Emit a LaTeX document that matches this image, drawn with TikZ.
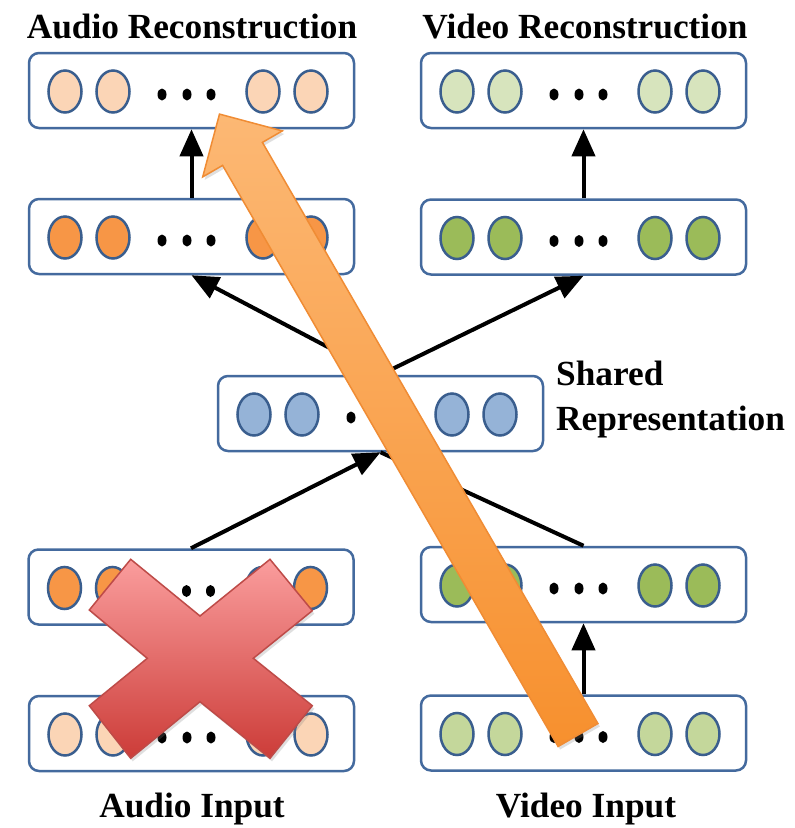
\documentclass[tikz,border=0pt]{standalone}
\usepackage{fontspec}
\setmainfont{Liberation Serif}
\usetikzlibrary{arrows.meta,shapes.geometric,shadows}
\definecolor{boxline}{RGB}{68,106,158}
\definecolor{elline}{RGB}{58,94,142}
\definecolor{peach}{RGB}{251,213,182}
\definecolor{aorange}{RGB}{247,150,70}
\definecolor{vlight}{RGB}{215,228,189}
\definecolor{vgreen}{RGB}{155,187,89}
\definecolor{vinput}{RGB}{196,215,155}
\definecolor{sblue}{RGB}{149,179,215}
\definecolor{arrtop}{RGB}{252,184,116}
\definecolor{arrbot}{RGB}{247,144,46}
\definecolor{arredge}{RGB}{240,140,52}
\definecolor{xtop}{RGB}{250,157,157}
\definecolor{xbot}{RGB}{204,60,56}
\definecolor{xedge}{RGB}{190,75,72}
\newcommand\mklayer[4]{%
  \node[layerbox] (#1) at (#2+162.5,#3) {};
  \foreach \dx [count=\i] in {36,84,234,282}
    \node[unitnode,fill=#4] (#1u\i) at (#2+\dx,#3+1) {};
  \foreach \dx [count=\i] in {133,158,182}
    \node[dotnode] (#1d\i) at (#2+\dx,#3+4) {};
}
\begin{document}
\begin{tikzpicture}[x=1pt,y=-1pt,
  layerbox/.style={draw=boxline,line width=2.5pt,rounded corners=10pt,fill=white,
    minimum width=325pt,minimum height=75pt,inner sep=0pt},
  unitnode/.style={ellipse,draw=elline,line width=2.5pt,minimum width=33pt,
    minimum height=42pt,inner sep=0pt},
  dotnode/.style={ellipse,fill=black,minimum width=9pt,minimum height=12pt,inner sep=0pt},
  arr/.style={line width=4pt,-{Triangle[length=27pt,width=23pt]}},
  plain/.style={line width=4pt},
  lbl/.style={font=\fontsize{35.3}{40}\selectfont\bfseries,inner sep=0pt}]
\useasboundingbox (0,0) rectangle (795,828);
\fill[white] (0,0) rectangle (795,828);

% labels
\node[lbl,anchor=base] (tar) at (192,38) {Audio Reconstruction};
\node[lbl,anchor=base] (tvr) at (585,38) {Video Reconstruction};
\node[lbl,anchor=base west] (tsh1) at (556,385) {Shared};
\node[lbl,anchor=base west] (tsh2) at (556,430) {Representation};
\node[lbl,anchor=base] (tai) at (192,817) {Audio Input};
\node[lbl,anchor=base] (tvi) at (586,817) {Video Input};

% layers
\mklayer{ar}{29}{90.5}{peach}
\mklayer{ah}{29}{236.5}{aorange}
\mklayer{vr}{421}{90.5}{vlight}
\mklayer{vh}{421}{237}{vgreen}
\mklayer{sh}{218}{413.5}{sblue}
\mklayer{ab}{28.5}{587}{aorange}
\mklayer{vb}{421}{584.5}{vgreen}
\mklayer{ai}{29}{733.5}{peach}
\mklayer{vi}{421}{733}{vinput}

% connectors
\draw[arr] (ah.north) -- (ar.south);
\draw[arr] (vh.north) -- (vr.south);
\draw[arr] (sh.north) -- (ah.south);
\draw[arr] (sh.north) -- (vh.south);
\draw[plain] (vb.north) -- (sh.south);
\draw[arr] (ab.north) -- (sh.south);
\draw[arr] (vi.north) -- (vb.south);

% red cross
\path[draw=xedge,line width=1.5pt,top color=xtop,bottom color=xbot,
  drop shadow={opacity=0.25,shadow xshift=2pt,shadow yshift=-3pt}]
  (89.3,610) -- (130.7,559.3) -- (200,616) -- (270,559.3) -- (312.3,610.7)
  -- (253.3,658.3) -- (312.3,705.7) -- (270,758.3) -- (200,701.7)
  -- (130.7,758.3) -- (89.3,705.7) -- (147.3,658.3) -- cycle;

% big orange arrow
\path[draw=arredge,line width=1.5pt,top color=arrtop,bottom color=arrbot,
  drop shadow={opacity=0.25,shadow xshift=2pt,shadow yshift=-3pt}]
  (558.1,746.5) -- (222.6,165.4) -- (202.7,176.9) -- (219.5,114.1)
  -- (282.3,130.9) -- (262.4,142.4) -- (597.9,723.5) -- cycle;
\end{tikzpicture}
\end{document}
